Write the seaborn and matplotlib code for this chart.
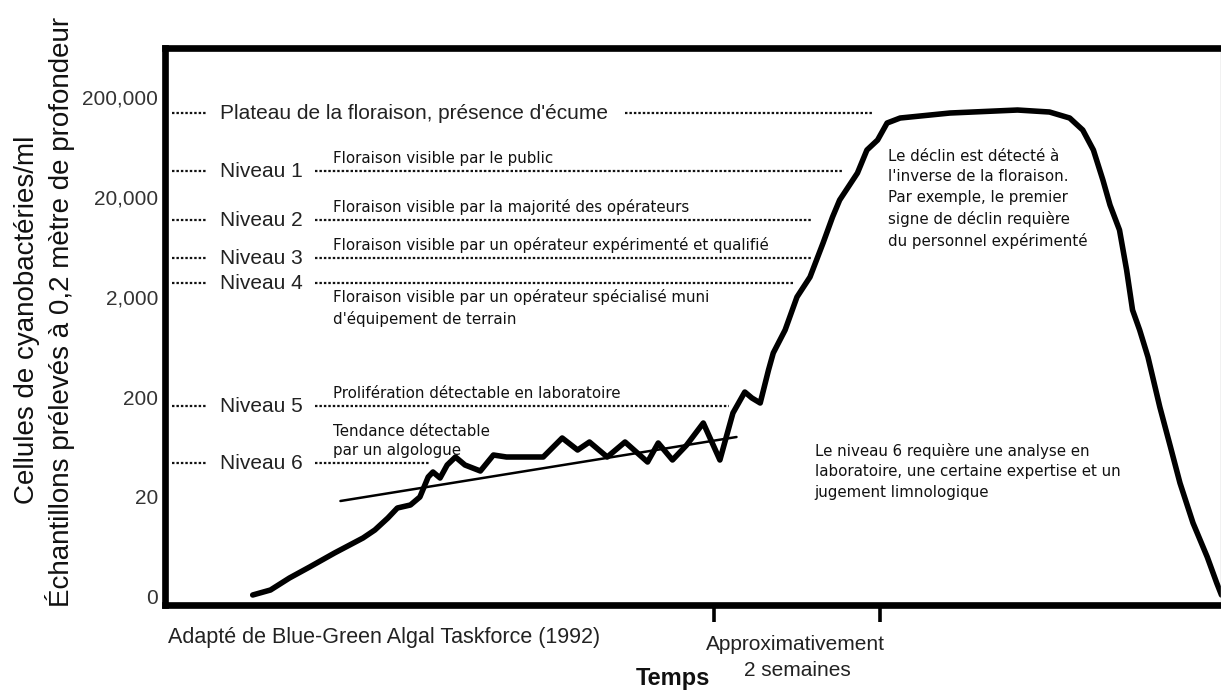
import numpy as np
import pandas as pd
import matplotlib.pyplot as plt
import seaborn as sns

# temps en jours, niveau = position sur l'echelle log (0 -> "0", 5 -> "200,000")
jours = [7.4, 8.9, 10.5, 12.2, 14.3, 16.7, 17.7, 18.8, 19.6, 20.7, 21.5, 22.2, 22.6,
         23.2, 23.8, 24.5, 25.3, 26.6, 27.7, 28.8, 31.9, 33.5, 34.8, 35.8, 37.3,
         38.8, 40.7, 41.6, 42.8, 44.0, 45.4, 46.8, 47.9, 48.9, 49.5, 50.2, 50.9,
         51.3, 52.3, 53.3, 54.4, 55.5, 56.3, 56.9, 58.4, 59.2, 60.1, 60.9, 62.0,
         66.2, 71.9, 74.6, 76.3, 77.4, 78.3, 79.1, 79.7, 80.5, 81.1, 81.6, 82.2,
         82.9, 83.9, 84.8, 85.6, 86.7, 87.9, 88.7, 89.1]
niveau = [0.02, 0.07, 0.19, 0.30, 0.44, 0.59, 0.67, 0.79, 0.89, 0.92, 1.00, 1.20, 1.25,
          1.19, 1.32, 1.40, 1.32, 1.26, 1.42, 1.40, 1.40, 1.59, 1.47, 1.55, 1.40,
          1.55, 1.35, 1.54, 1.37, 1.52, 1.74, 1.37, 1.84, 2.05, 1.99, 1.94, 2.27,
          2.44, 2.67, 3.00, 3.20, 3.54, 3.80, 3.97, 4.24, 4.47, 4.57, 4.74, 4.79,
          4.84, 4.87, 4.85, 4.79, 4.67, 4.47, 4.17, 3.92, 3.67, 3.27, 2.87, 2.67,
          2.40, 1.90, 1.50, 1.14, 0.74, 0.40, 0.14, 0.02]

tendance_jours = [14.8, 48.2]
tendance_niveau = [0.96, 1.60]

ytick_labels = ["0", "20", "200", "2,000", "20,000", "200,000"]

seuil_noms = ["Plateau de la floraison, présence d'écume", "Niveau 1", "Niveau 2",
              "Niveau 3", "Niveau 4", "Niveau 5", "Niveau 6"]
seuil_niveau = [4.84, 4.26, 3.77, 3.39, 3.14, 1.91, 1.34]
seuil_debut = [38.8, 12.65, 12.65, 12.65, 12.65, 12.65, 12.65]
seuil_fin = [59.6, 57.2, 54.6, 54.6, 53.1, 47.6, 22.3]
seuil_textes = ["", "Floraison visible par le public",
                "Floraison visible par la majorité des opérateurs",
                "Floraison visible par un opérateur expérimenté et qualifié",
                "Floraison visible par un opérateur spécialisé muni\nd'équipement de terrain",
                "Prolifération détectable en laboratoire",
                "Tendance détectable\npar un algologue"]

semaines = [46.3, 60.3]

df = pd.DataFrame({"jours": jours, "niveau": niveau})

sns.set_theme(style="white")
plt.rcParams['font.family'] = ['Liberation Sans', 'DejaVu Sans']
petit = dict(fontsize=10.8, color='#111', family='DejaVu Sans')

fig = plt.figure(figsize=(12.21, 6.9), dpi=100)
ax = fig.add_axes([0.1351, 0.1232, 0.8649, 0.8072])

dots = (0, (1.1, 0.9))
for i, nom in enumerate(seuil_noms):
    y = seuil_niveau[i]
    ax.plot([0.6, 3.5], [y, y], color='#111', lw=1.6, linestyle=dots)
    ax.plot([seuil_debut[i], seuil_fin[i]], [y, y], color='#111', lw=1.6, linestyle=dots)
    ax.text(4.6, y, nom, fontsize=15, color='#222', va='center', ha='left')
    txt = seuil_textes[i]
    if txt:
        if i == 4:
            ax.text(14.2, y - 0.06, txt, va='top', ha='left', linespacing=1.45, **petit)
        else:
            ax.text(14.2, y + 0.05, txt, va='bottom', ha='left', linespacing=1.3, **petit)

sns.lineplot(x=[tendance_jours[0], tendance_jours[1]], y=tendance_niveau, ax=ax,
             color='black', lw=1.8)
sns.lineplot(data=df, x="jours", y="niveau", ax=ax, color='black', lw=4.0,
             sort=False, estimator=None)
for l in ax.lines[-1:]:
    l.set_solid_joinstyle('round')
    l.set_solid_capstyle('round')

ax.text(61.0, 4.48, "Le déclin est détecté à\nl'inverse de la floraison.\nPar exemple, le premier\n"
        "signe de déclin requière\ndu personnel expérimenté",
        va='top', ha='left', linespacing=1.45, **petit)
ax.text(54.8, 1.54, "Le niveau 6 requière une analyse en\nlaboratoire, une certaine expertise et un\n"
        "jugement limnologique",
        va='top', ha='left', linespacing=1.45, **petit)

ax.set_xlim(0, 89.06)
ax.set_ylim(-0.08, 5.49)
ax.set_yticks(range(6))
ax.set_yticklabels(ytick_labels, fontsize=15, color='#333')
ax.set_xticks(semaines)
ax.set_xticklabels([])
ax.tick_params(axis='y', left=False, length=0, pad=5)
ax.tick_params(axis='x', bottom=True, length=12.5, width=2.6, direction='out', color='black')
ax.set_xlabel("")
ax.set_ylabel("")

for s in ['left', 'top', 'bottom']:
    ax.spines[s].set_linewidth(4.8)
    ax.spines[s].set_color('black')
ax.spines['right'].set_linewidth(1)
ax.spines['right'].set_color('#bbb')

fig.text(168 / 1221, 1 - 637 / 690, "Adapté de Blue-Green Algal Taskforce (1992)",
         fontsize=15.5, color='#222', va='center', ha='left')
fig.text(795 / 1221, 1 - 645 / 690, "Approximativement", fontsize=15, color='#222',
         va='center', ha='center')
fig.text(797 / 1221, 1 - 670 / 690, "2 semaines", fontsize=15, color='#222',
         va='center', ha='center')
fig.text(673 / 1221, 1 - 678 / 690, "Temps", fontsize=17, fontweight='bold', color='#111',
         va='center', ha='center')

fig.text(27 / 1221, 1 - 320 / 690, "Cellules de cyanobactéries/ml", fontsize=20,
         rotation=90, va='center', ha='center', color='#111')
fig.text(60 / 1221, 1 - 312 / 690, "Échantillons prélevés à 0,2 mètre de profondeur",
         fontsize=20, rotation=90, va='center', ha='center', color='#111')

fig.savefig("out.png", dpi=100)
